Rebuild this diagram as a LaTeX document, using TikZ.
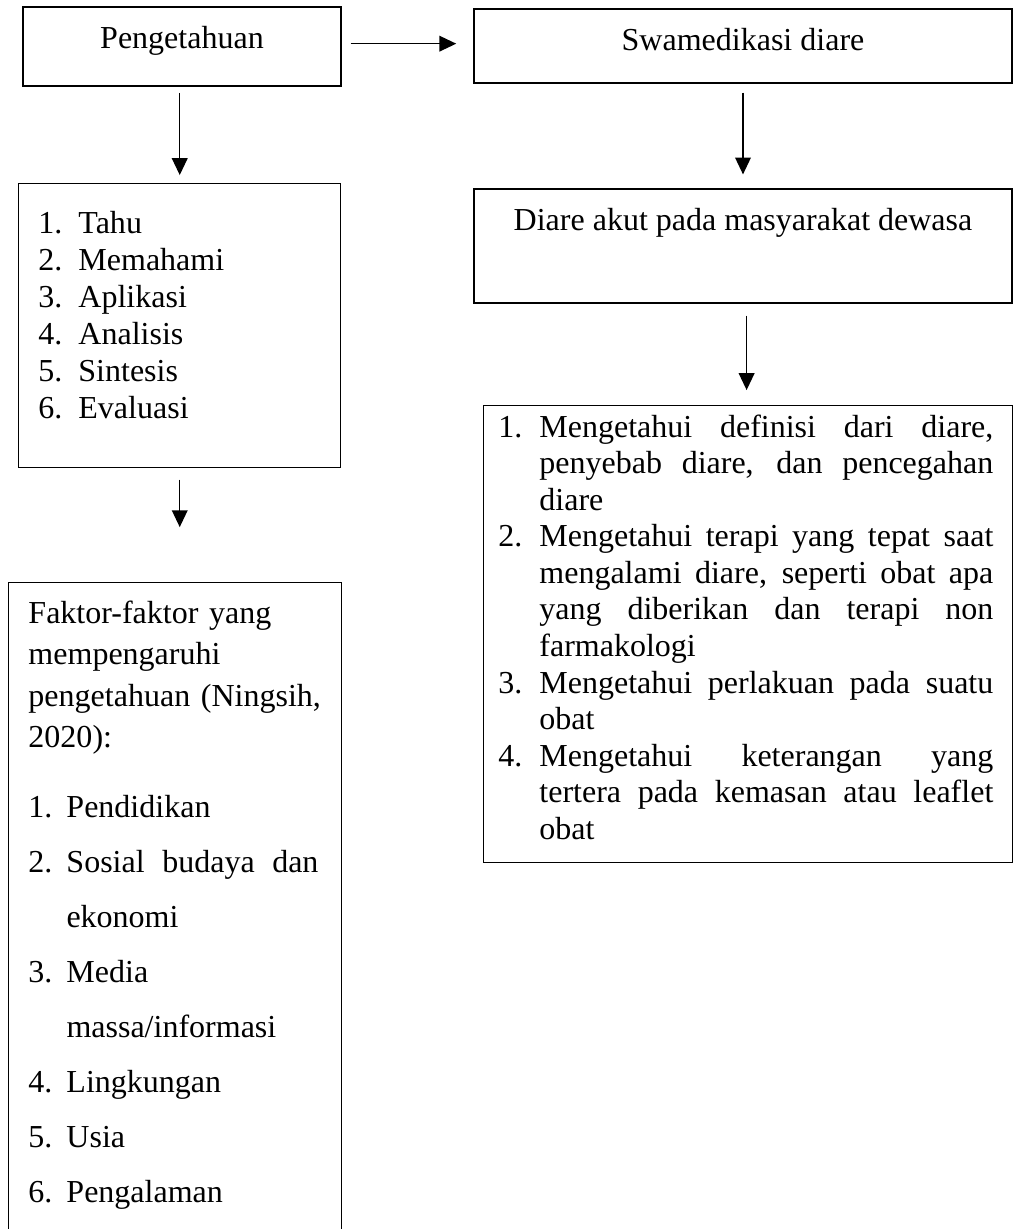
\documentclass[tikz,border=0pt]{standalone}
\usepackage{fontspec}
\setmainfont{Liberation Serif}
\usepackage{tikz}
\usetikzlibrary{arrows.meta,positioning,calc}
\tikzset{
  kotak/.style  = {draw,line width=0.6pt,inner sep=0pt,align=center},
  judul/.style  = {kotak,minimum width=#1,anchor=base,
                   font=\fontsize{13.3}{15}\selectfont},
  daftar/.style = {anchor=base west,inner sep=0pt,align=left,text width=#1},
  panah/.style  = {-{Triangle[length=7pt,width=6.5pt]},line width=0.6pt},
}
\newcommand{\nr}[2][16.6pt]{\makebox[#1][l]{#2}}
\newcommand{\jl}[2]{\hbox to #1{\spaceskip=0.25em plus 1fil\relax #2}}

\begin{document}
\begin{tikzpicture}[x=0.0146cm,y=-0.0146cm]
  \useasboundingbox (0,0) rectangle (1013,1229);
  \node[judul=132.1pt,text height=17pt,text depth=15.8pt] (pengetahuan) at (182,48) {Pengetahuan};
  \node[judul=223.5pt,text height=17pt,text depth=13.7pt] (swamedikasi) at (743,50) {Swamedikasi diare};
  \node[judul=223.5pt,text height=17pt,text depth=30.3pt] (diare) at (743,230) {Diare akut pada masyarakat dewasa};

  \node[kotak,minimum width=133.8pt,minimum height=118pt,anchor=north west] (tingkat) at (18,183) {};
  \node[daftar=125pt,font=\fontsize{13.3}{15.45}\selectfont] (tingkattxt) at (38,233)
    {\nr{1.}Tahu\\ \nr{2.}Memahami\\ \nr{3.}Aplikasi\\ \nr{4.}Analisis\\ \nr{5.}Sintesis\\ \nr{6.}Evaluasi};

  \node[kotak,minimum width=138.3pt,minimum height=275pt,anchor=north west] (faktor) at (8,582) {};
  \node[daftar=135pt,font=\fontsize{13.3}{17.3}\selectfont] (faktortxt) at (28,623)
    {Faktor-faktor yang\\ mempengaruhi\\ pengetahuan (Ningsih,\\ 2020):\\[11.4pt]
     \nr[15.8pt]{1.}Pendidikan\\[5.6pt]
     \nr[15.8pt]{2.}\jl{104.7pt}{Sosial budaya dan}\\[5.6pt]
     \hspace*{15.8pt}ekonomi\\[5.6pt]
     \nr[15.8pt]{3.}Media\\[5.6pt]
     \hspace*{15.8pt}massa/informasi\\[5.6pt]
     \nr[15.8pt]{4.}Lingkungan\\[5.6pt]
     \nr[15.8pt]{5.}Usia\\[5.6pt]
     \nr[15.8pt]{6.}Pengalaman};

  \node[kotak,minimum width=219.7pt,minimum height=189.8pt,anchor=north west] (hasil) at (483,405) {};
  \node[daftar=210pt,font=\fontsize{13.3}{15.2}\selectfont] (hasiltxt) at (498,437)
    {\nr[17pt]{1.}\jl{188.6pt}{Mengetahui definisi dari diare,}\\
     \hspace*{17pt}\jl{188.6pt}{penyebab diare, dan pencegahan}\\
     \hspace*{17pt}diare\\
     \nr[17pt]{2.}\jl{188.6pt}{Mengetahui terapi yang tepat saat}\\
     \hspace*{17pt}\jl{188.6pt}{mengalami diare, seperti obat apa}\\
     \hspace*{17pt}\jl{188.6pt}{yang diberikan dan terapi non}\\
     \hspace*{17pt}farmakologi\\
     \nr[17pt]{3.}\jl{188.6pt}{Mengetahui perlakuan pada suatu}\\
     \hspace*{17pt}obat\\
     \nr[17pt]{4.}\jl{188.6pt}{Mengetahui keterangan yang}\\
     \hspace*{17pt}\jl{188.6pt}{tertera pada kemasan atau leaflet}\\
     \hspace*{17pt}obat};

  \draw[panah,shorten <=3.7pt,shorten >=7.1pt] ([yshift=1.2pt]pengetahuan.east) -- ([yshift=1.2pt]pengetahuan.east -| swamedikasi.west);
  \draw[panah,shorten <=2.5pt,shorten >=3.3pt] (tingkat.north |- pengetahuan.south) -- (tingkat.north);
  \draw[panah,shorten <=4.6pt,shorten >=22.8pt] (tingkat.south) -- (tingkat.south |- faktor.north);
  \draw[panah,shorten <=3.7pt,shorten >=5.8pt] (swamedikasi.south) -- (diare.north);
  \draw[panah,shorten <=5pt,shorten >=6.2pt] ([xshift=1.5pt]diare.south) -- ([xshift=1.5pt]diare.south |- hasil.north);
\end{tikzpicture}
\end{document}
